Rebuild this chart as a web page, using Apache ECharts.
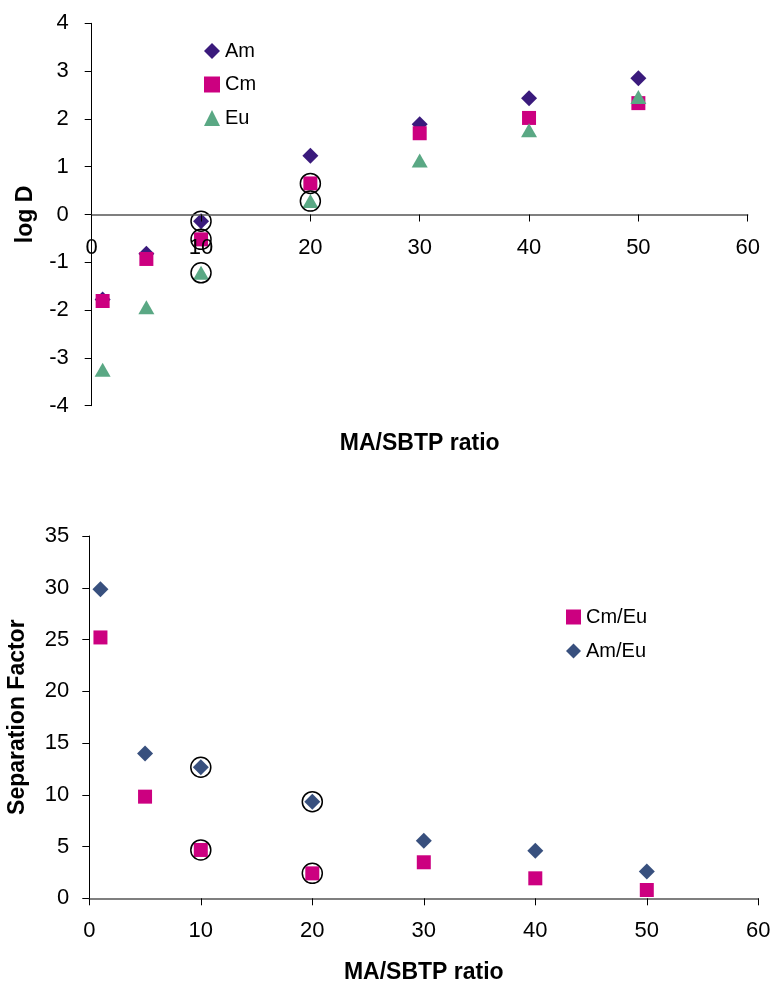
<!DOCTYPE html>
<html>
<head>
<meta charset="utf-8">
<script src="https://cdn.jsdelivr.net/npm/echarts@6/dist/echarts.min.js"></script>
<style>
html,body{margin:0;padding:0;background:#fff;}
#chart{width:773px;height:983px;}
</style>
</head>
<body>
<div id="chart"></div>
<script>
// ---- data ----
var ratio = [1, 5, 10, 20, 30, 40, 50];
var amLogD = [-1.78, -0.82, -0.14, 1.23, 1.89, 2.43, 2.85];
var cmLogD = [-1.81, -0.93, -0.52, 0.65, 1.70, 2.02, 2.33];
var euLogD = [-3.25, -1.94, -1.22, 0.28, 1.13, 1.76, 2.46];
var amEuSF = [29.85, 14.0, 12.66, 9.33, 5.57, 4.6, 2.6];
var cmEuSF = [25.2, 9.82, 4.67, 2.41, 3.48, 1.93, 0.8];
// indexes of the points ringed with an open circle
var circledAmTop = [2];
var circledCmTop = [2, 3];
var circledEuTop = [2, 3];
var circledAmBottom = [2, 3];
var circledCmBottom = [2, 3];
var topTicks = {min: -4, max: 4, interval: 1};
var bottomTicks = {min: 0, max: 35, interval: 5};
var xTicks = {min: 0, max: 60, interval: 10};

function pairs(xs, ys) { return xs.map(function (x, i) { return [x, ys[i]]; }); }
function picks(xs, ys, idx) { return idx.map(function (i) { return [xs[i], ys[i]]; }); }

var FONT = '"Liberation Sans", Arial, sans-serif';
var C_AM = '#3a1a7c', C_CM = '#cc0080', C_EU = '#5aa884', C_AMEU = '#38507e';

var TOP_GRID = {left: 91.7, right: 25.3, top: 23.3, height: 382.4};
// the top x axis crosses the y axis at log D = 0
var zeroOffset = -TOP_GRID.height * (0 - topTicks.min) / (topTicks.max - topTicks.min);

function yAxisBase(t, gridIndex, name, gap, margin) {
  return {
    type: 'value', gridIndex: gridIndex, min: t.min, max: t.max, interval: t.interval,
    name: name, nameLocation: 'middle', nameGap: gap,
    nameTextStyle: {fontFamily: FONT, fontSize: 23, fontWeight: 'bold', color: '#000'},
    axisLine: {show: true, lineStyle: {color: '#000', width: 1}},
    axisTick: {show: true, length: 7, lineStyle: {color: '#000'}},
    axisLabel: {fontFamily: FONT, fontSize: 22, color: '#000', margin: margin},
    splitLine: {show: false}
  };
}
function xAxisBase(gridIndex, gap, margin, offset) {
  return {
    type: 'value', gridIndex: gridIndex, min: xTicks.min, max: xTicks.max, interval: xTicks.interval,
    position: 'bottom', offset: offset,
    name: 'MA/SBTP ratio', nameLocation: 'middle', nameGap: gap,
    nameTextStyle: {fontFamily: FONT, fontSize: 23, fontWeight: 'bold', color: '#000'},
    axisLine: {show: true, onZero: false, lineStyle: {color: '#555', width: 1.5}},
    axisTick: {show: true, length: 7, lineStyle: {color: '#000'}},
    axisLabel: {fontFamily: FONT, fontSize: 22, color: '#000', margin: margin},
    splitLine: {show: false},
    z: 5
  };
}
function ring(xi, yi, data) {
  return {
    type: 'scatter', xAxisIndex: xi, yAxisIndex: yi, data: data,
    symbol: 'circle', symbolSize: 20, z: 4, silent: true,
    itemStyle: {color: 'rgba(0,0,0,0)', borderColor: '#000', borderWidth: 1.5, opacity: 1}
  };
}
function dots(name, xi, yi, data, symbol, size, color) {
  return {name: name, type: 'scatter', xAxisIndex: xi, yAxisIndex: yi, data: data,
          symbol: symbol, symbolSize: size, itemStyle: {color: color, opacity: 1}};
}

var chart = echarts.init(document.getElementById('chart'), null, {renderer: 'canvas'});
chart.setOption({
  animation: false,
  backgroundColor: '#fff',
  grid: [
    {left: TOP_GRID.left, right: TOP_GRID.right, top: TOP_GRID.top, height: TOP_GRID.height, containLabel: false, outerBoundsMode: 'none'},
    {left: 89.3, right: 14.7, top: 536, height: 362.3, containLabel: false, outerBoundsMode: 'none'}
  ],
  legend: [
    {
      orient: 'vertical', left: 199, top: 36, itemWidth: 16, itemHeight: 16, itemGap: 13.5,
      textStyle: {fontFamily: FONT, fontSize: 20, color: '#000', lineHeight: 20},
      data: ['Am', 'Cm', 'Eu']
    },
    {
      orient: 'vertical', left: 561, top: 602, itemWidth: 15, itemHeight: 15, itemGap: 14,
      textStyle: {fontFamily: FONT, fontSize: 20, color: '#000', lineHeight: 20},
      data: ['Cm/Eu', 'Am/Eu']
    }
  ],
  xAxis: [xAxisBase(0, 218, 22, zeroOffset), xAxisBase(1, 63, 22, 0)],
  yAxis: [yAxisBase(topTicks, 0, 'log D', 55, 23), yAxisBase(bottomTicks, 1, 'Separation Factor', 60, 20)],
  series: [
    dots('Am', 0, 0, pairs(ratio, amLogD), 'diamond', 16, C_AM),
    dots('Cm', 0, 0, pairs(ratio, cmLogD), 'rect', 14, C_CM),
    dots('Eu', 0, 0, pairs(ratio, euLogD), 'triangle', [16, 14], C_EU),
    ring(0, 0, picks(ratio, amLogD, circledAmTop)),
    ring(0, 0, picks(ratio, cmLogD, circledCmTop)),
    ring(0, 0, picks(ratio, euLogD, circledEuTop)),
    dots('Am/Eu', 1, 1, pairs(ratio, amEuSF), 'diamond', 16, C_AMEU),
    dots('Cm/Eu', 1, 1, pairs(ratio, cmEuSF), 'rect', 14, C_CM),
    ring(1, 1, picks(ratio, amEuSF, circledAmBottom)),
    ring(1, 1, picks(ratio, cmEuSF, circledCmBottom))
  ]
});
</script>
</body>
</html>
